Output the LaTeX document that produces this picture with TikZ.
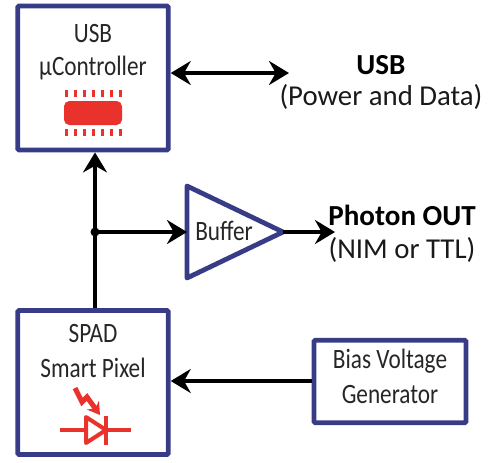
\documentclass[tikz,border=0pt]{standalone}
\usepackage{fontspec}
\setmainfont{Carlito}
\newfontfamily\blockfont[FakeStretch=0.83]{Carlito}
\usetikzlibrary{arrows.meta}
\definecolor{boxblue}{HTML}{383C86}
\definecolor{partred}{HTML}{E8322B}
\tikzset{
  blockbox/.style={draw=boxblue,line width=3.6pt,rounded corners=1pt,inner sep=0pt},
  blocktext/.style={font=\blockfont\fontsize{21}{24}\selectfont,text=black!85},
  outtext/.style={font=\fontsize{21.6}{24}\selectfont,text=black!90},
  outhead/.style={font=\fontsize{21.8}{24}\selectfont\bfseries},
  wire/.style={line width=3pt,-{Stealth[length=15pt,width=18pt,inset=5pt]}},
  redpart/.style={draw=partred,line width=3pt}
}
\begin{document}
\begin{tikzpicture}[x=0.75pt,y=-0.75pt]
\useasboundingbox (0,0) rectangle (494,462);
\node[blockbox,minimum width=113pt,minimum height=108pt] (usb) at (93,78) {};
\node[blockbox,minimum width=113pt,minimum height=108pt] (spad) at (93,382.5) {};
\node[blockbox,minimum width=114pt,minimum height=62pt] (bias) at (390,381.5) {};
\node[blocktext] (usbname) at (93,34) {USB};
\node[blocktext] (usbctrl) at (93,68) {µController};
\node[blocktext] (spadname) at (93,334) {SPAD};
\node[blocktext] (spadpixel) at (93,368) {Smart Pixel};
\node[blocktext] (biasname) at (390,361) {Bias Voltage};
\node[blocktext] (biasgen) at (390,395) {Generator};
\coordinate (buftop) at (187,186);
\coordinate (bufbot) at (187,278);
\coordinate (buftip) at (283,232);
\draw[draw=boxblue,line width=3.6pt,line join=round] (buftop) -- (buftip) -- (bufbot) -- cycle;
\node[blocktext] (bufname) at (224,231) {Buffer};
\coordinate (join) at (95,232);
\coordinate (usbfree) at (289,73);
\coordinate (outfree) at (335,232);
\coordinate (bufin) at (187,232);
\path[draw,wire] (spad.north -| join) -- (usb.south -| join);
\path[draw,wire] (join) -- (bufin);
\path[draw,wire] (buftip) -- (outfree);
\path[draw,wire,{Stealth[length=15pt,width=18pt,inset=5pt]}-{Stealth[length=15pt,width=18pt,inset=5pt]}] (usb.east |- usbfree) -- (usbfree);
\coordinate (biasin) at (314,381);
\path[draw,wire] (bias.west |- biasin) -- (spad.east |- biasin);
\fill (join) circle (4.5);
\node[outhead] (usbhead) at (381,65) {USB};
\node[outtext] (usbnote) at (381,97) {(Power and Data)};
\node[outhead] (photonhead) at (402,215) {Photon OUT};
\node[outtext] (photonnote) at (402,250) {(NIM or TTL)};
\fill[partred,rounded corners=4pt] (64,101) rectangle (122,125);
\foreach \x in {66,75,84,93,102,111,120} {
  \fill[partred] (\x-1.5,90) rectangle (\x+1.5,97);
  \fill[partred] (\x-1.5,129) rectangle (\x+1.5,136);
}
\draw[redpart] (60,430) -- (131,430);
\draw[redpart,fill=white,line join=round] (86,417) -- (106,430) -- (86,443) -- cycle;
\draw[redpart,line width=3.4pt] (106,416) -- (106,445);
\draw[redpart,line width=3.8pt,-{Stealth[length=9pt,width=11pt]}] (75,388) -- (82,402) -- (87,397) -- (100,415);
\end{tikzpicture}
\end{document}
